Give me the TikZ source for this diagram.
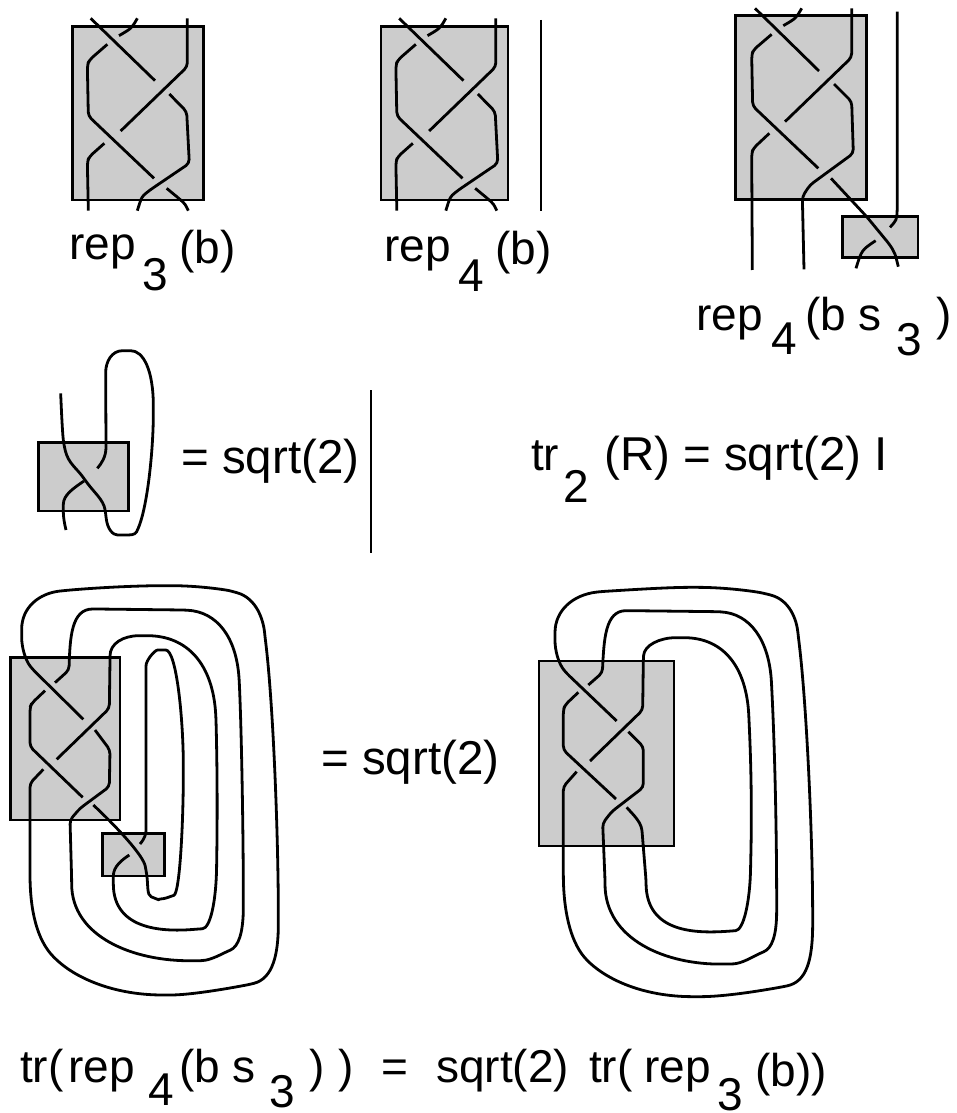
\documentclass[tikz,border=0pt]{standalone}
\usepackage{fontspec}
\setmainfont{Liberation Sans}
\definecolor{boxgray}{HTML}{CCCCCC}
\tikzset{
  strand/.style={line width=2.8pt,line join=round,rounded corners=4pt},
  box/.style={draw=black,fill=boxgray,line width=2.6pt},
  lab/.style={anchor=base west,inner sep=0pt,font=\fontsize{46}{50}\selectfont},
  labbig/.style={lab,font=\fontsize{47.5}{50}\selectfont},
  zoomed/.style={x=0.33333pt,y=-0.33333pt},
}
\newcommand{\braidcore}{%
  \draw[strand] (122,55) -- (315,242);
  \draw[strand] (262,55) .. controls (245,85) .. (207,107);
  \draw[strand] (172,133) -- (118,180) -- (112,195) -- (115,348) -- (312,535);
  \draw[strand] (412,55) -- (412,200) -- (212,393);
  \draw[strand] (358,282) -- (410,335) -- (418,490) -- (300,570) .. controls (275,590) .. (262,632);
  \draw[strand] (163,430) -- (118,470) -- (112,485) -- (115,632);
  \draw[strand] (350,565) -- (390,598) .. controls (405,612) .. (415,632);
}
\begin{document}
\begin{tikzpicture}[x=1pt,y=-1pt]
\useasboundingbox (0,0) rectangle (956,1113);
% braid 1
\begin{scope}[shift={(50,0)},zoomed]
  \draw[box] (68,80) rectangle (460,600);
  \braidcore
\end{scope}
% braid 2
\begin{scope}[shift={(358.5,0)},zoomed]
  \draw[box] (68,80) rectangle (448,600);
  \braidcore
\end{scope}
\draw[line width=2.4pt] (541,20) -- (541,211);
% braid 3
\begin{scope}[shift={(720,0)},zoomed]
  \draw[box] (47,47) rectangle (440,598);
  \draw[box] (367,650) rectangle (594,772);
  \draw[strand] (105,25) -- (297,213);
  \draw[strand] (245,25) .. controls (228,55) .. (190,77);
  \draw[strand] (155,103) -- (100,150) -- (95,165) -- (98,318) -- (295,505);
  \draw[strand] (395,25) -- (395,172) -- (195,365);
  \draw[strand] (342,252) -- (395,305) -- (400,460) -- (270,555) -- (247,590) -- (252,808);
  \draw[strand] (148,400) -- (100,445) -- (95,460) -- (97,810);
  \draw[strand] (333,535) -- (440,650) -- (510,735) .. controls (525,760) .. (535,800);
  \draw[strand] (510,682) .. controls (530,660) .. (532,620) -- (532,35);
  \draw[strand] (467,722) .. controls (425,750) .. (408,805);
\end{scope}
% middle left
\begin{scope}[shift={(20,340)},zoomed]
  \draw[box] (55,307) rectangle (325,513);
  \draw[strand] (122,160) .. controls (125,230) and (128,290) .. (133,320) .. controls (145,370) and (170,385) .. (195,420) .. controls (225,460) and (250,480) .. (257,520) .. controls (262,570) and (280,585) .. (305,585) .. controls (330,585) and (345,585) .. (355,565) .. controls (385,480) and (400,320) .. (400,210) .. controls (400,90) and (370,32) .. (320,32) .. controls (275,32) and (257,65) .. (257,110) -- (258,310) .. controls (258,350) and (245,370) .. (232,385);
  \draw[strand] (192,423) .. controls (160,445) and (130,465) .. (130,505) .. controls (130,530) and (133,550) .. (138,570);
\end{scope}
\draw[line width=2.4pt] (371,390) -- (371,553);
% bottom left
\begin{scope}[shift={(0,570)},zoomed]
  \draw[box] (32,263) rectangle (360,750);
  \draw[box] (307,790) rectangle (493,918);
  \draw[strand] (250,448) -- (100,300) .. controls (75,270) and (65,230) .. (65,190) .. controls (65,110) and (120,70) .. (190,62) .. controls (300,52) and (420,47) .. (500,47) .. controls (600,47) and (680,60) .. (700,65) .. controls (770,85) and (790,150) .. (795,200) .. controls (820,400) and (835,800) .. (835,1050) .. controls (835,1150) and (820,1225) .. (750,1243) .. controls (650,1262) and (560,1275) .. (500,1275) .. controls (350,1275) and (240,1230) .. (170,1170) .. controls (110,1110) and (90,1020) .. (90,900) -- (90,640) -- (130,598);
  \draw[strand] (165,338) -- (207,300) .. controls (210,200) and (215,117) .. (290,117) -- (550,120) .. controls (650,125) and (710,200) .. (718,340) .. controls (725,500) and (730,800) .. (730,1000) .. controls (730,1090) and (715,1130) .. (680,1145) .. controls (640,1165) and (620,1172) .. (590,1172) .. controls (400,1175) and (215,1100) .. (215,930) -- (210,750) -- (240,715) -- (328,650) -- (330,540) -- (285,480);
  \draw[strand] (170,568) -- (328,415) -- (330,270) .. controls (330,220) and (370,197) .. (430,197) .. controls (560,197) and (640,280) .. (648,450) .. controls (652,600) and (652,750) .. (650,880) .. controls (648,1000) and (630,1075) .. (595,1077) .. controls (500,1085) and (340,1085) .. (340,930) .. controls (340,890) and (365,870) .. (388,855);
  \draw[strand] (420,822) .. controls (435,805) and (438,790) .. (438,770) -- (438,300) .. controls (438,270) and (465,240) .. (485,240) .. controls (530,240) and (550,450) .. (550,600) .. controls (550,750) and (540,970) .. (510,980) .. controls (490,987) and (470,987) .. (465,985) .. controls (440,975) and (445,945) .. (438,900) .. controls (430,860) and (370,790) .. (280,705);
  \draw[strand] (135,362) -- (95,400) -- (90,412) -- (90,530) -- (248,682);
\end{scope}
% bottom right
\begin{scope}[shift={(530,570)},zoomed]
  \draw[box] (27,273) rectangle (432,828);
  \draw[strand] (260,453) -- (110,310) .. controls (85,280) and (75,240) .. (75,200) .. controls (75,120) and (130,75) .. (210,65) .. controls (320,58) and (420,52) .. (490,52) .. controls (590,52) and (680,65) .. (710,72) .. controls (780,90) and (800,150) .. (805,200) .. controls (830,400) and (848,800) .. (848,1050) .. controls (848,1170) and (830,1235) .. (760,1250) .. controls (660,1268) and (570,1280) .. (500,1280) .. controls (350,1280) and (240,1235) .. (170,1170) .. controls (120,1110) and (100,1020) .. (100,900) -- (100,650) -- (140,605);
  \draw[strand] (175,345) -- (217,308) .. controls (222,210) and (225,122) .. (300,122) -- (560,125) .. controls (660,130) and (718,210) .. (725,350) .. controls (735,550) and (740,800) .. (740,1010) .. controls (740,1100) and (725,1135) .. (690,1150) .. controls (650,1170) and (630,1182) .. (590,1182) .. controls (410,1185) and (225,1110) .. (225,930) -- (218,760) -- (245,725) -- (340,652) -- (340,530) -- (295,485);
  \draw[strand] (180,573) -- (338,420) -- (340,270) .. controls (342,225) and (390,203) .. (450,203) .. controls (580,203) and (650,290) .. (657,450) .. controls (665,620) and (665,760) .. (662,880) .. controls (660,1000) and (640,1080) .. (605,1083) .. controls (500,1090) and (350,1090) .. (348,930) -- (335,770) -- (320,745) -- (290,712);
  \draw[strand] (145,367) -- (105,405) -- (100,420) -- (100,540) -- (258,687);
\end{scope}
% labels
\node[lab] (a1) at (69,259) {rep};
\node[lab] (a2) at (142,290) {3};
\node[lab] (a3) at (179,263) {(b)};
\node[lab] (b1) at (384,261) {rep};
\node[lab] (b2) at (458,291) {4};
\node[lab] (b3) at (495,264) {(b)};
\node[lab] (c1) at (696,330) {rep};
\node[lab] (c2) at (771,354) {4};
\node[lab] (c3) at (805,330) {(b s};
\node[lab] (c4) at (896,355) {3};
\node[lab] (c5) at (936,330) {)};
\node[labbig] (d1) at (181,473) {= sqrt(2)};
\node[lab] (e1) at (531,470) {tr};
\node[lab] (e2) at (563,502) {2};
\node[labbig] (e3) at (604,470) {(R) = sqrt(2) I};
\node[labbig] (f1) at (321,774) {= sqrt(2)};
\node[lab] (g1) at (20,1082) {tr(};
\node[lab] (g2) at (68,1082) {rep};
\node[lab] (g3) at (148,1105) {4};
\node[lab] (g4) at (179,1082) {(b s};
\node[lab] (g5) at (269,1107) {3};
\node[lab] (g6) at (309,1082) {)};
\node[lab] (g7) at (338,1082) {)};
\node[lab] (g8) at (381,1082) {=};
\node[lab] (g9) at (436,1082) {sqrt(2)};
\node[lab] (g10) at (589,1082) {tr(};
\node[lab] (g11) at (644,1082) {rep};
\node[lab] (g12) at (717,1110) {3};
\node[lab] (g13) at (755,1086) {(b))};
\end{tikzpicture}
\end{document}
